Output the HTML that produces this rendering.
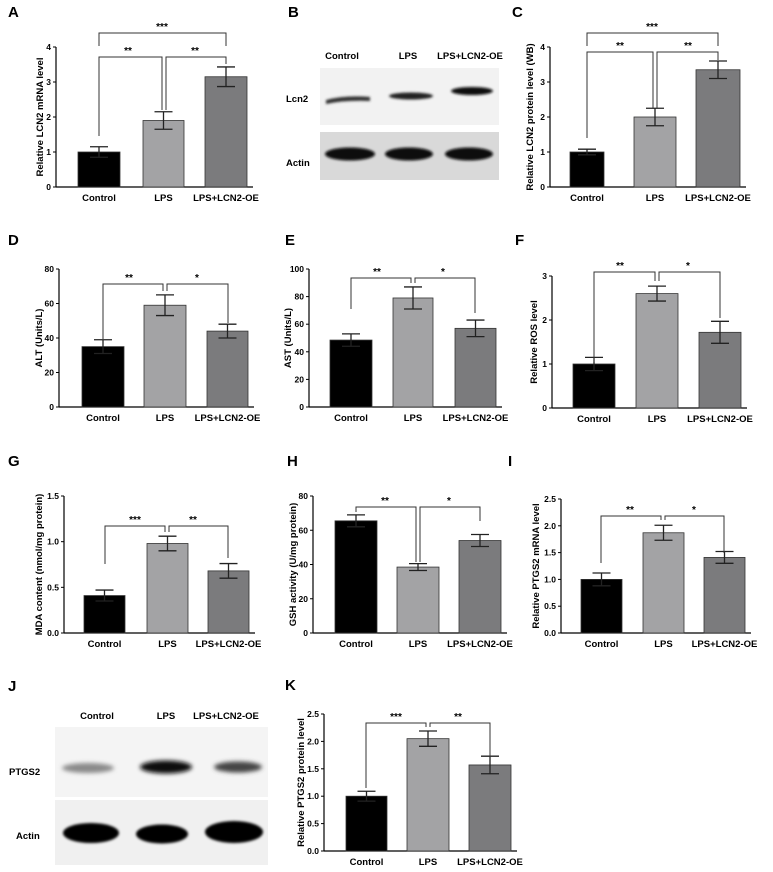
<!DOCTYPE html>
<html><head><meta charset="utf-8"><style>
html,body{margin:0;padding:0;background:#fff;}
svg{display:block;font-family:"Liberation Sans",Arial,sans-serif;font-weight:bold;}
</style></head><body>
<svg id="s" width="773" height="872" viewBox="0 0 773 872" xmlns="http://www.w3.org/2000/svg">
<defs>
<filter id="bl" x="-20%" y="-100%" width="140%" height="300%"><feGaussianBlur stdDeviation="2"/></filter>
<filter id="bl2" x="-20%" y="-100%" width="140%" height="300%"><feGaussianBlur stdDeviation="1.3"/></filter>
</defs>
<g id="g"></g>
<!-- Blot B -->
<rect x="320" y="68" width="179" height="57" fill="#f2f2f2"/>
<rect x="320" y="132" width="179" height="48" fill="#d9d9d9"/>
<path d="M326,100 Q345,95 370,97 L370,101 Q345,100 326,104 Z" fill="#333" filter="url(#bl2)"/>
<ellipse cx="411" cy="96" rx="22" ry="3.5" fill="#222" filter="url(#bl2)"/>
<ellipse cx="472" cy="91" rx="21" ry="4" fill="#111" filter="url(#bl2)"/>
<ellipse cx="350" cy="154" rx="25" ry="6.5" fill="#080808" filter="url(#bl2)"/>
<ellipse cx="409" cy="154" rx="24" ry="6.5" fill="#080808" filter="url(#bl2)"/>
<ellipse cx="469" cy="154" rx="24" ry="6.5" fill="#080808" filter="url(#bl2)"/>
<text x="342" y="59" font-size="9.5" text-anchor="middle">Control</text>
<text x="408" y="59" font-size="9.5" text-anchor="middle">LPS</text>
<text x="470" y="59" font-size="9.5" text-anchor="middle">LPS+LCN2-OE</text>
<text x="286" y="102" font-size="9.5">Lcn2</text>
<text x="286" y="166" font-size="9.5">Actin</text>
<!-- Blot J -->
<rect x="55" y="727" width="213" height="70" fill="#f4f4f4"/>
<rect x="55" y="800" width="213" height="65" fill="#f0f0f0"/>
<ellipse cx="88" cy="768" rx="26" ry="5" fill="#8a8a8a" filter="url(#bl)"/>
<ellipse cx="166" cy="767" rx="26" ry="6.5" fill="#111" filter="url(#bl)"/>
<ellipse cx="238" cy="767" rx="24" ry="5.5" fill="#444" filter="url(#bl)"/>
<ellipse cx="91" cy="833" rx="28" ry="10" fill="#060606" filter="url(#bl2)"/>
<ellipse cx="162" cy="834" rx="26" ry="9.5" fill="#060606" filter="url(#bl2)"/>
<ellipse cx="234" cy="832" rx="29" ry="11" fill="#060606" filter="url(#bl2)"/>
<text x="97" y="719" font-size="9.5" text-anchor="middle">Control</text>
<text x="166" y="719" font-size="9.5" text-anchor="middle">LPS</text>
<text x="226" y="719" font-size="9.5" text-anchor="middle">LPS+LCN2-OE</text>
<text x="9" y="775" font-size="9.5">PTGS2</text>
<text x="16" y="839" font-size="9.5">Actin</text>
</svg>
<script>
const g=document.getElementById('g');let h='';
const cols=['#000','#a3a3a5','#7b7b7d'];
const names=['Control','LPS','LPS+LCN2-OE'];
function chart(o){
 const s=(o.y0-o.yt)/o.max;
 const Y=v=>o.y0-v*s;
 h+=`<line x1="${o.ax}" y1="${o.yt}" x2="${o.ax}" y2="${o.y0}" stroke="#000" stroke-width="1.2"/>`;
 h+=`<line x1="${o.ax}" y1="${o.y0}" x2="${o.bars[2][1]+6}" y2="${o.y0}" stroke="#000" stroke-width="1.2"/>`;
 o.ticks.forEach(t=>{const y=Y(t);h+=`<line x1="${o.ax-3}" y1="${y}" x2="${o.ax}" y2="${y}" stroke="#000"/>`;
  h+=`<text x="${o.ax-5}" y="${y+3}" font-size="8.5" text-anchor="end">${o.dec?t.toFixed(o.dec):t}</text>`;});
 o.bars.forEach((b,i)=>{const [x1,x2,v,e]=b;const c=(x1+x2)/2;
  h+=`<rect x="${x1}" y="${Y(v)}" width="${x2-x1}" height="${o.y0-Y(v)}" fill="${cols[i]}" stroke="#333" stroke-width="0.8"/>`;
  h+=`<path d="M${c},${Y(v+e)} V${Y(v-e)} M${c-9},${Y(v+e)} H${c+9} M${c-9},${Y(v-e)} H${c+9}" stroke="#222" stroke-width="1.3" fill="none"/>`;
  h+=`<text x="${c}" y="${o.y0+14}" font-size="9.5" text-anchor="middle">${names[i]}</text>`;});
 o.br.forEach(b=>{const [x1,x2,yb,l1,l2,st,tx]=b;
  h+=`<path d="M${x1},${l1} V${yb} H${x2} V${l2}" stroke="#333" stroke-width="1" fill="none"/>`;
  h+=`<text x="${tx}" y="${yb-3}" font-size="10" text-anchor="middle">${st}</text>`;});
 h+=`<text transform="translate(${o.lx},${(o.yt+o.y0)/2}) rotate(-90)" font-size="9.5" text-anchor="middle">${o.lab}</text>`;
 h+=`<text x="${o.L[0]}" y="${o.L[1]}" font-size="15">${o.L[2]}</text>`;
}
chart({ax:56,y0:187,yt:47,max:4,ticks:[0,1,2,3,4],lx:43,lab:'Relative LCN2 mRNA level',L:[8,17,'A'],
 bars:[[78,120,1,.15],[143,184,1.9,.25],[205,247,3.15,.28]],
 br:[[99,226,33,46,46,'***',162],[99,162,57,136,110,'**',128],[166,226,57,110,64,'**',195]]});
chart({ax:550,y0:187,yt:47,max:4,ticks:[0,1,2,3,4],lx:533,lab:'Relative LCN2 protein level (WB)',L:[512,17,'C'],
 bars:[[570,604,1,.08],[634,676,2,.25],[696,740,3.35,.25]],
 br:[[587,718,33,46,46,'***',652],[587,653,52,138,108,'**',620],[657,718,52,108,60,'**',688]]});
chart({ax:59,y0:407,yt:269,max:80,ticks:[0,20,40,60,80],lx:42,lab:'ALT (Units/L)',L:[8,245,'D'],
 bars:[[82,124,35,4],[144,186,59,6],[207,248,44,4]],
 br:[[103,163,284,339,291,'**',129],[167,228,284,291,323,'*',197]]});
chart({ax:309,y0:407,yt:269,max:100,ticks:[0,20,40,60,80,100],lx:291,lab:'AST (Units/L)',L:[285,245,'E'],
 bars:[[330,372,48.5,4.5],[393,433,79,8],[455,496,57,6]],
 br:[[351,411,278,309,283,'**',377],[415,475,278,283,313,'*',443]]});
chart({ax:552,y0:408,yt:276,max:3,ticks:[0,1,2,3],lx:537,lab:'Relative ROS level',L:[515,245,'F'],
 bars:[[573,615,1,.15],[636,678,2.6,.17],[699,741,1.72,.25]],
 br:[[594,655,272,362,281,'**',620],[659,720,272,281,318,'*',688]]});
chart({ax:64,y0:633,yt:496,max:1.5,dec:1,ticks:[0,.5,1,1.5],lx:42,lab:'MDA content (nmol/mg protein)',L:[8,466,'G'],
 bars:[[84,125,.41,.06],[147,188,.98,.08],[208,249,.68,.08]],
 br:[[105,165,526,564,532,'***',135],[169,228,526,532,558,'**',193]]});
chart({ax:313,y0:633,yt:496,max:80,ticks:[0,20,40,60,80],lx:296,lab:'GSH activity (U/mg protein)',L:[287,466,'H'],
 bars:[[335,377,65.5,3.5],[397,439,38.5,2],[459,501,54,3.5]],
 br:[[356,416,507,512,562,'**',385],[420,480,507,562,521,'*',449]]});
chart({ax:561,y0:633,yt:499,max:2.5,dec:1,ticks:[0,.5,1,1.5,2,2.5],lx:539,lab:'Relative PTGS2 mRNA level',L:[508,466,'I'],
 bars:[[581,622,1,.12],[643,684,1.87,.14],[704,745,1.41,.11]],
 br:[[601,661,516,563,520,'**',630],[665,724,516,520,553,'*',694]]});
chart({ax:324,y0:851,yt:714,max:2.5,dec:1,ticks:[0,.5,1,1.5,2,2.5],lx:304,lab:'Relative PTGS2 protein level',L:[285,690,'K'],
 bars:[[346,387,1,.09],[407,449,2.05,.14],[469,511,1.57,.16]],
 br:[[366,426,723,788,727,'***',396],[430,490,723,727,757,'**',458]]});
h+=`<text x="8" y="691" font-size="15">J</text><text x="288" y="17" font-size="15">B</text>`;
g.innerHTML=h;
</script>
</body></html>
